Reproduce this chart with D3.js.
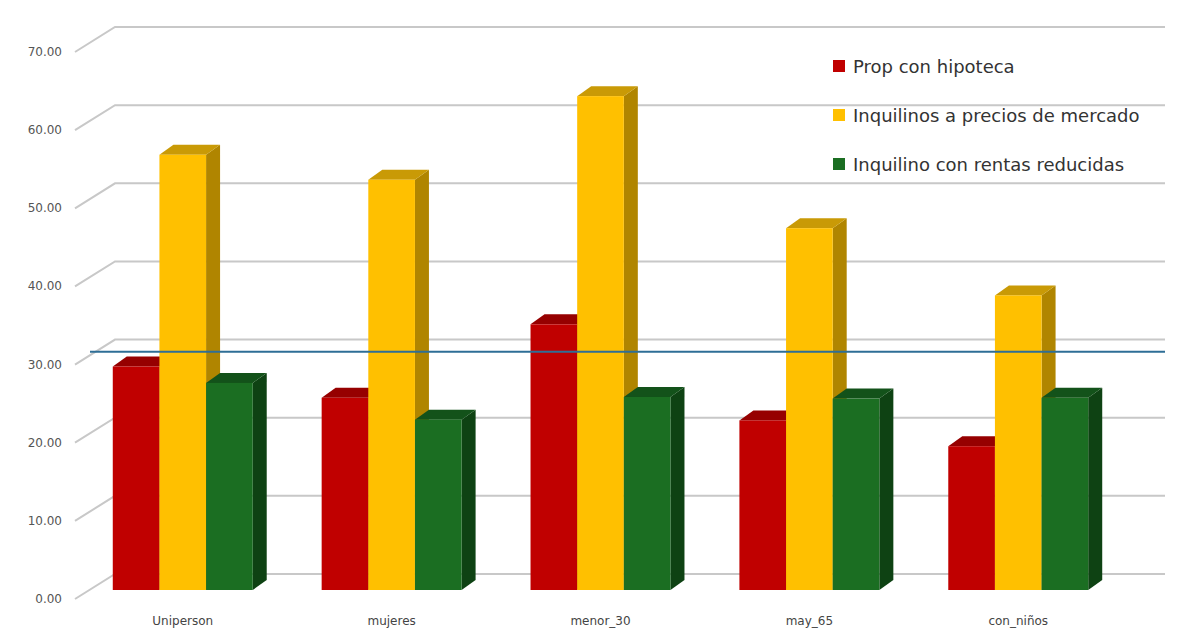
<!DOCTYPE html><html><head><meta charset="utf-8"><script src="https://cdn.jsdelivr.net/npm/d3@7"></script>
<style>body{margin:0;background:#fff}svg{font-family:"DejaVu Sans",sans-serif}</style></head><body>
<svg id="c" width="1200" height="640"></svg>
<script>
const categories=["Uniperson","mujeres","menor_30","may_65","con_niños"];
const seriesNames=["Prop con hipoteca","Inquilinos a precios de mercado","Inquilino con rentas reducidas"];
const propHipoteca=[28.6,24.6,34.0,21.7,18.4];
const inqMercado=[55.7,52.5,63.2,46.3,37.7];
const inqReducidas=[26.5,21.8,24.7,24.5,24.6];
const refLine=30.5;
const yTicks=[0,10,20,30,40,50,60,70];
const values=[propHipoteca,inqMercado,inqReducidas];
const front=["#c00000","#ffc000","#1b6e22"],top_=["#960000","#c99a06","#13521a"],side=["#800000","#b08500","#0e4213"];
const svg=d3.select("#c");
const yG=d3.scaleLinear().domain([0,70]).range([599,52]);
const yB=d3.scaleLinear().domain([0,70]).range([590,43]);
const DX=40,DY=-25;
yTicks.forEach(v=>{
 const y=yG(v);
 svg.append("path").attr("d",`M75,${y}L${75+DX},${y+DY}L1165,${y+DY}`).attr("fill","none").attr("stroke","#c8c8c8").attr("stroke-width",2);
 svg.append("text").attr("x",62).attr("y",y+4).attr("text-anchor","end").attr("font-size",12).attr("fill","#555").text(v.toFixed(2));
});
const x=d3.scaleBand().domain(categories).range([71,1130]).paddingInner(0.33).paddingOuter(0.2);
const sub=d3.scaleBand().domain([0,1,2]).range([0,x.bandwidth()]);
const bw=sub.bandwidth(),dx=14,dy=-10;
categories.forEach((c,i)=>{
 [0,1,2].forEach(s=>{
  const x0=x(c)+sub(s),y0=yB(values[s][i]),yb=yB(0);
  const g=svg.append("g");
  g.append("path").attr("d",`M${x0+bw},${y0}L${x0+bw+dx},${y0+dy}L${x0+bw+dx},${yb+dy}L${x0+bw},${yb}Z`).attr("fill",side[s]);
  g.append("path").attr("d",`M${x0},${y0}L${x0+dx},${y0+dy}L${x0+bw+dx},${y0+dy}L${x0+bw},${y0}Z`).attr("fill",top_[s]);
  g.append("rect").attr("x",x0).attr("y",y0).attr("width",bw).attr("height",yb-y0).attr("fill",front[s]);
 });
 svg.append("text").attr("x",x(c)+x.bandwidth()/2).attr("y",625).attr("text-anchor","middle").attr("font-size",12).attr("fill","#444").text(c);
});
svg.append("line").attr("x1",90).attr("x2",1165).attr("y1",yB(refLine)).attr("y2",yB(refLine)).attr("stroke","#2e6e96").attr("stroke-width",2);
seriesNames.forEach((n,i)=>{
 const y=66+i*49;
 svg.append("rect").attr("x",833).attr("y",y-6).attr("width",12).attr("height",12).attr("fill",front[i]);
 svg.append("text").attr("x",853).attr("y",y+7).attr("font-size",18).attr("fill","#333").text(n);
});
</script></body></html>
